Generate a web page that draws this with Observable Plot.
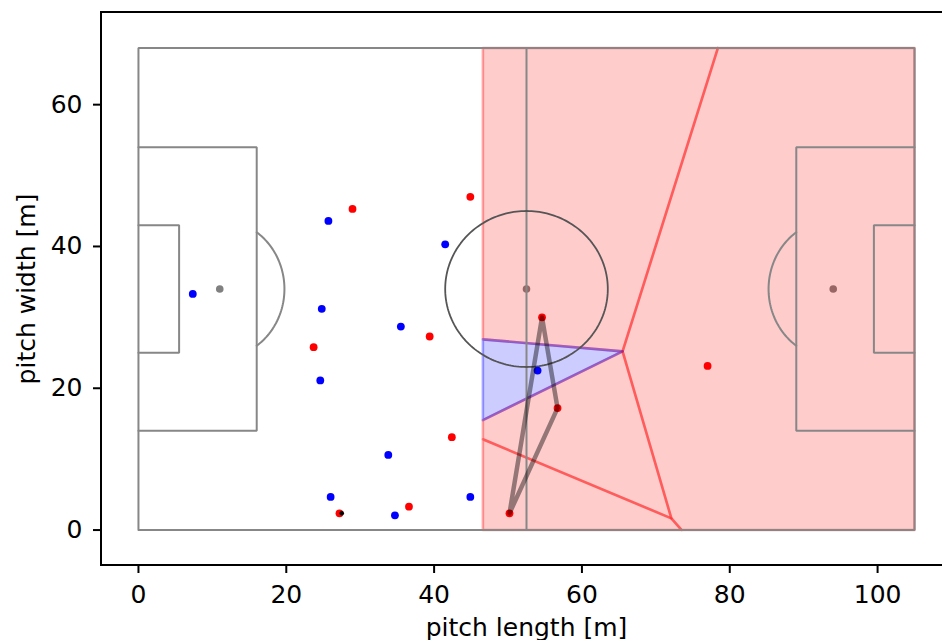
<!DOCTYPE html>
<html><head><meta charset="utf-8">
<script src="https://cdn.jsdelivr.net/npm/d3@7"></script>
<script src="https://cdn.jsdelivr.net/npm/@observablehq/plot@0.6"></script>
<style>html,body{margin:0;padding:0;background:#fff;overflow:hidden;}</style>
</head><body><div id="chart"></div>
<script>
// ---- axes ----
const xTicks = [0, 20, 40, 60, 80, 100];
const yTicks = [0, 20, 40, 60];
const xLabel = "pitch length [m]";
const yLabel = "pitch width [m]";
const xDomain = [-5, 110];
const yDomain = [-5, 73];

// ---- pitch geometry ----
const pitchLength = 105, pitchWidth = 68;
const boxDepth = 16, boxLow = 14, boxHigh = 54;
const goalDepth = 5.5, goalLow = 25, goalHigh = 43;
const spotX = [11, 52.5, 94];
const spotY = [34, 34, 34];
const centreRadius = 11;
const arcRx = 8.75, arcRy = 9.75;

// ---- players ----
const blueX = [7.35, 25.7, 41.5, 24.8, 35.5, 24.6, 54.0, 33.8, 26.0, 34.7, 44.9];
const blueY = [33.3, 43.6, 40.3, 31.2, 28.7, 21.1, 22.5, 10.6, 4.67, 2.08, 4.67];
const redX  = [28.96, 44.9, 23.7, 39.4, 54.6, 56.7, 77.0, 42.4, 36.6, 27.2, 50.2];
const redY  = [45.3, 47.0, 25.8, 27.3, 30.0, 17.2, 23.15, 13.1, 3.3, 2.36, 2.36];
const ballX = [27.5];
const ballY = [2.36];

// ---- control regions (polygon vertices) ----
const redCellA = [[46.6, 68], [78.4, 68], [65.5, 25.2], [46.6, 26.9]];
const redCellB = [[46.6, 15.5], [65.5, 25.2], [72.1, 1.65], [46.6, 12.8]];
const redCellC = [[46.6, 12.8], [72.1, 1.65], [73.5, 0], [46.6, 0]];
const redCellD = [[78.4, 68], [105, 68], [105, 0], [73.5, 0], [72.1, 1.65], [65.5, 25.2]];
const blueCell = [[46.6, 26.9], [65.5, 25.2], [46.6, 15.5]];

// ---- passing triangle ----
const triangle = [[50.2, 2.36], [54.6, 30.0], [56.7, 17.2], [50.2, 2.36]];

// ---- build tables ----
const pts = (xs, ys) => xs.map((x, i) => ({x, y: ys[i]}));
const poly = (cells) => cells.flatMap((c, id) => [...c, c[0]].map(([x, y]) => ({id, x, y})));
const L = pitchLength, W = pitchWidth;
const pitchPolylines = [
  [[0,0],[L,0],[L,W],[0,W],[0,0]],
  [[L/2,0],[L/2,W]],
  [[0,boxLow],[boxDepth,boxLow],[boxDepth,boxHigh],[0,boxHigh]],
  [[0,goalLow],[goalDepth,goalLow],[goalDepth,goalHigh],[0,goalHigh]],
  [[L,boxLow],[L-boxDepth,boxLow],[L-boxDepth,boxHigh],[L,boxHigh]],
  [[L,goalLow],[L-goalDepth,goalLow],[L-goalDepth,goalHigh],[L,goalHigh]]
];
const pitchRows = pitchPolylines.flatMap((p, id) => p.map(([x, y]) => ({id, x, y})));
const t0 = Math.acos((boxDepth - spotX[0]) / arcRx);
const arcRows = [];
for (let k = 0; k <= 60; k++) {
  const t = -t0 + 2 * t0 * k / 60;
  arcRows.push({id: 0, x: spotX[0] + arcRx * Math.cos(t), y: spotY[0] + arcRy * Math.sin(t)});
  arcRows.push({id: 1, x: spotX[2] - arcRx * Math.cos(t), y: spotY[2] + arcRy * Math.sin(t)});
}
const circleRows = d3.range(0, 201).map(k => {
  const a = 2 * Math.PI * k / 200;
  return {x: spotX[1] + centreRadius * Math.cos(a), y: spotY[1] + centreRadius * Math.sin(a)};
});

const FS = 25;
const chart = Plot.plot({
  width: 942, height: 640,
  marginLeft: 101, marginTop: 12, marginBottom: 75, marginRight: 0,
  style: {fontFamily: "DejaVu Sans", fontSize: FS + "px", color: "black", background: "white", overflow: "hidden"},
  x: {domain: xDomain, range: [101, 951]},
  y: {domain: yDomain, range: [565, 12]},
  marks: [
    Plot.dot(pts(spotX, spotY), {x: "x", y: "y", r: 3.8, fill: "#808080"}),
    Plot.line(poly([redCellA, redCellB, redCellC, redCellD]), {x: "x", y: "y", z: "id", fill: "red", fillOpacity: 0.2, stroke: "red", strokeOpacity: 0.33, strokeWidth: 2.6, curve: "linear"}),
    Plot.line(poly([blueCell]), {x: "x", y: "y", z: "id", fill: "blue", fillOpacity: 0.2, stroke: "blue", strokeOpacity: 0.33, strokeWidth: 2.6, curve: "linear"}),
    Plot.line(pitchRows, {x: "x", y: "y", z: "id", stroke: "#878787", strokeWidth: 2, strokeLinejoin: "miter"}),
    Plot.line(arcRows, {x: "x", y: "y", z: "id", stroke: "#878787", strokeWidth: 2, curve: "linear"}),
    Plot.line(circleRows, {x: "x", y: "y", stroke: "#555", strokeWidth: 1.8, curve: "linear"}),
    Plot.dot(pts(blueX, blueY), {x: "x", y: "y", r: 3.9, fill: "blue"}),
    Plot.dot(pts(redX, redY), {x: "x", y: "y", r: 3.9, fill: "red"}),
    Plot.line(triangle.map(([x, y]) => ({x, y})), {x: "x", y: "y", stroke: "black", strokeOpacity: 0.42, strokeWidth: 4.5, strokeLinejoin: "round"}),
    Plot.dot(pts(ballX, ballY), {x: "x", y: "y", r: 2.3, fill: "black"}),
    Plot.rect([0], {x1: () => xDomain[0], x2: () => xDomain[1], y1: () => yDomain[0], y2: () => yDomain[1], fill: "none", stroke: "black", strokeWidth: 2}),
    Plot.axisX({ticks: xTicks, tickSize: 8, tickPadding: 12, fontSize: FS, stroke: "black", strokeWidth: 2, label: null, tickFormat: d => String(d)}),
    Plot.axisY({ticks: yTicks, tickSize: 8, tickPadding: 11, fontSize: FS, stroke: "black", strokeWidth: 2, label: null, tickFormat: d => String(d)}),
    Plot.text([xLabel], {x: () => (xDomain[0] + xDomain[1]) / 2, frameAnchor: "bottom", dy: 70, lineAnchor: "bottom", textAnchor: "middle", text: d => d, fontSize: FS, fill: "black"}),
    Plot.text([yLabel], {y: () => (yDomain[0] + yDomain[1]) / 2, frameAnchor: "left", dx: -67, rotate: -90, lineAnchor: "bottom", textAnchor: "middle", text: d => d, fontSize: FS, fill: "black"})
  ]
});
document.getElementById("chart").appendChild(chart);
</script>
</body></html>
